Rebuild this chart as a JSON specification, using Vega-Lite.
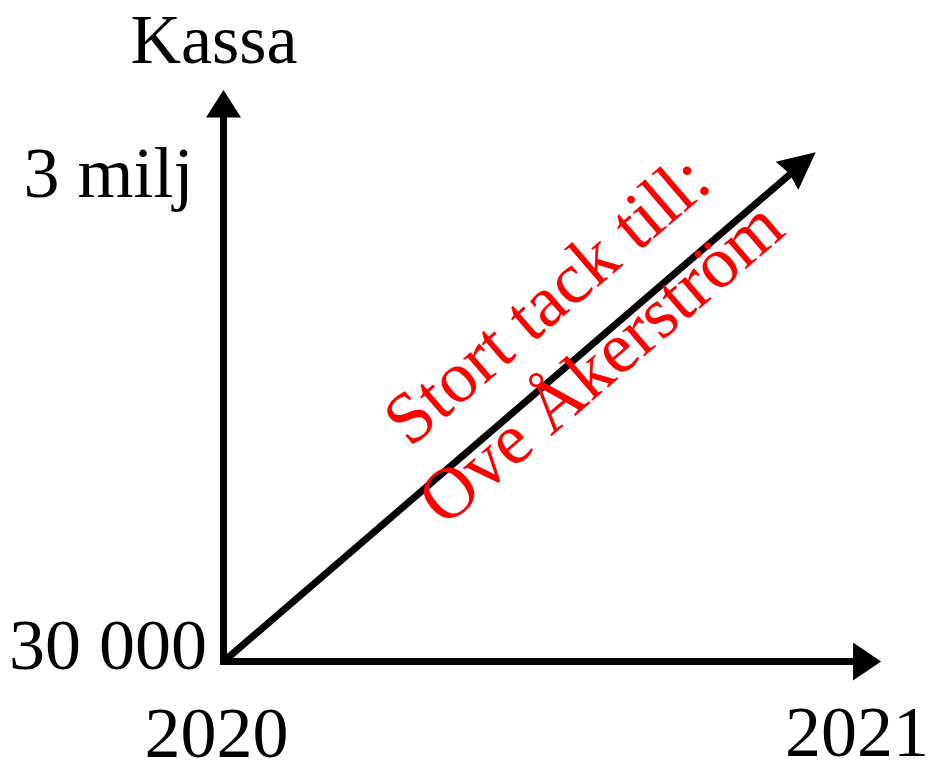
{
  "$schema": "https://vega.github.io/schema/vega-lite/v6.json",
  "width": 928,
  "height": 760,
  "autosize": {"type": "none"},
  "padding": 0,
  "background": "white",
  "config": {"view": {"stroke": null}},
  "datasets": {
    "lines": [
      {"part": "x-axel", "year": 2020, "kassa": 30000, "year2": 2021, "kassa2": 30000},
      {"part": "y-axel", "year": 2020, "kassa": 30000, "year2": 2020, "kassa2": 3400000},
      {"part": "kassa", "year": 2020, "kassa": 30000, "year2": 2020.913, "kassa2": 3066900}
    ],
    "arrows": [
      {"part": "x-axel", "year": 2021.038, "kassa": 30000},
      {"part": "y-axel", "year": 2020, "kassa": 3518900},
      {"part": "kassa", "year": 2020.9348, "kassa": 3138600}
    ],
    "labels": [
      {"role": "ytitle", "label": "Kassa", "year": 2020, "kassa": 3518900},
      {"role": "ytop", "label": "3 milj", "year": 2020, "kassa": 3000000},
      {"role": "ybottom", "label": "30 000", "year": 2020, "kassa": 30000},
      {"role": "xstart", "label": "2020", "year": 2020, "kassa": 30000},
      {"role": "xend", "label": "2021", "year": 2021, "kassa": 30000}
    ],
    "note": [
      {"label": ["Stort tack till:", "Ove Åkerström"], "year": 2020.5757, "kassa": 1944500}
    ]
  },
  "layer": [
    {
      "data": {"name": "lines"},
      "transform": [{"filter": "datum.part !== 'kassa'"}],
      "mark": {"type": "rule", "color": "black", "strokeWidth": 7, "strokeCap": "square"},
      "encoding": {
        "x": {"field": "year", "type": "quantitative", "axis": null, "scale": {"domain": [2020, 2021], "range": [223.5, 857], "zero": false, "nice": false}},
        "y": {"field": "kassa", "type": "quantitative", "axis": null, "scale": {"domain": [30000, 3000000], "range": [661.5, 175], "zero": false, "nice": false}},
        "x2": {"field": "year2"},
        "y2": {"field": "kassa2"}
      }
    },
    {
      "data": {"name": "lines"},
      "transform": [{"filter": "datum.part === 'kassa'"}],
      "mark": {"type": "rule", "color": "black", "strokeWidth": 7, "strokeCap": "butt"},
      "encoding": {
        "x": {"field": "year", "type": "quantitative"},
        "y": {"field": "kassa", "type": "quantitative"},
        "x2": {"field": "year2"},
        "y2": {"field": "kassa2"}
      }
    },
    {
      "data": {"name": "arrows"},
      "transform": [{"filter": "datum.part === 'x-axel'"}],
      "mark": {"type": "point", "shape": "M0,0L-1.4,-0.95L-1.4,0.95Z", "size": 1600, "filled": true, "color": "black", "opacity": 1},
      "encoding": {
        "x": {"field": "year", "type": "quantitative"},
        "y": {"field": "kassa", "type": "quantitative"}
      }
    },
    {
      "data": {"name": "arrows"},
      "transform": [{"filter": "datum.part === 'y-axel'"}],
      "mark": {"type": "point", "shape": "M0,0L0.875,1.375L-0.875,1.375Z", "size": 1600, "filled": true, "color": "black", "opacity": 1},
      "encoding": {
        "x": {"field": "year", "type": "quantitative"},
        "y": {"field": "kassa", "type": "quantitative"}
      }
    },
    {
      "data": {"name": "arrows"},
      "transform": [{"filter": "datum.part === 'kassa'"}],
      "mark": {"type": "point", "shape": "M0,0L-2,0.47L-1.3,1.07L-0.87,1.885Z", "size": 1600, "filled": true, "color": "black", "opacity": 1},
      "encoding": {
        "x": {"field": "year", "type": "quantitative"},
        "y": {"field": "kassa", "type": "quantitative"}
      }
    },
    {
      "data": {"name": "labels"},
      "transform": [{"filter": "datum.role === 'ytitle'"}],
      "mark": {"type": "text", "font": "Liberation Serif", "fontSize": 70, "color": "black", "align": "center", "baseline": "alphabetic", "dx": -9.5, "dy": -27},
      "encoding": {
        "x": {"field": "year", "type": "quantitative"},
        "y": {"field": "kassa", "type": "quantitative"},
        "text": {"field": "label"}
      }
    },
    {
      "data": {"name": "labels"},
      "transform": [{"filter": "datum.role === 'ytop'"}],
      "mark": {"type": "text", "font": "Liberation Serif", "fontSize": 72, "color": "black", "align": "right", "baseline": "alphabetic", "dx": -30, "dy": 22},
      "encoding": {
        "x": {"field": "year", "type": "quantitative"},
        "y": {"field": "kassa", "type": "quantitative"},
        "text": {"field": "label"}
      }
    },
    {
      "data": {"name": "labels"},
      "transform": [{"filter": "datum.role === 'ybottom'"}],
      "mark": {"type": "text", "font": "Liberation Serif", "fontSize": 72, "color": "black", "align": "right", "baseline": "alphabetic", "dx": -16.5, "dy": 7},
      "encoding": {
        "x": {"field": "year", "type": "quantitative"},
        "y": {"field": "kassa", "type": "quantitative"},
        "text": {"field": "label"}
      }
    },
    {
      "data": {"name": "labels"},
      "transform": [{"filter": "datum.role === 'xstart'"}],
      "mark": {"type": "text", "font": "Liberation Serif", "fontSize": 72, "color": "black", "align": "center", "baseline": "alphabetic", "dx": -7, "dy": 95},
      "encoding": {
        "x": {"field": "year", "type": "quantitative"},
        "y": {"field": "kassa", "type": "quantitative"},
        "text": {"field": "label"}
      }
    },
    {
      "data": {"name": "labels"},
      "transform": [{"filter": "datum.role === 'xend'"}],
      "mark": {"type": "text", "font": "Liberation Serif", "fontSize": 72, "color": "black", "align": "center", "baseline": "alphabetic", "dx": 0, "dy": 94},
      "encoding": {
        "x": {"field": "year", "type": "quantitative"},
        "y": {"field": "kassa", "type": "quantitative"},
        "text": {"field": "label"}
      }
    },
    {
      "data": {"name": "note"},
      "mark": {"type": "text", "font": "Liberation Serif", "fontSize": 73, "color": "#ff0000", "align": "center", "baseline": "alphabetic", "angle": 319.31, "dy": -40, "lineHeight": 83},
      "encoding": {
        "x": {"field": "year", "type": "quantitative"},
        "y": {"field": "kassa", "type": "quantitative"},
        "text": {"field": "label"}
      }
    }
  ]
}
